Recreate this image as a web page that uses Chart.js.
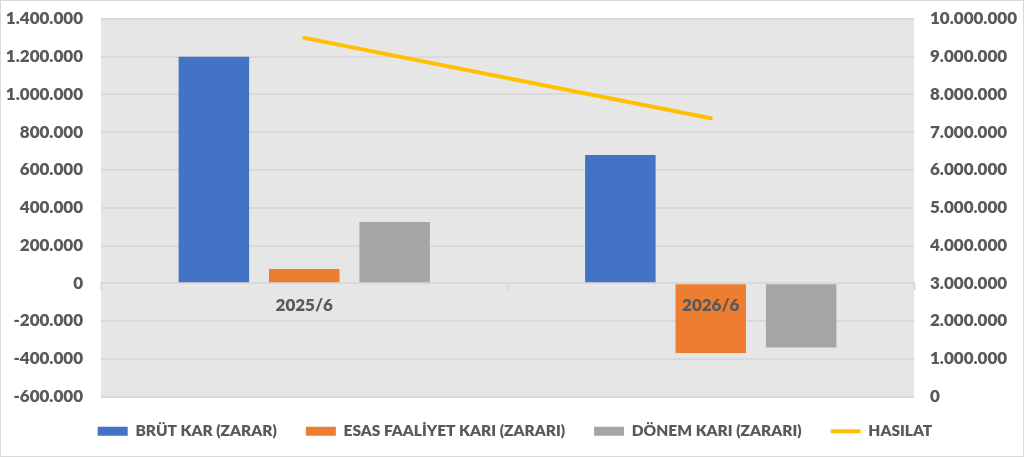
<!DOCTYPE html>
<html>
<head>
<meta charset="utf-8">
<script src="https://cdn.jsdelivr.net/npm/chart.js@4.4.0/dist/chart.umd.min.js"></script>
<style>
  body { margin: 0; background: #fff; }
  #wrap { width: 1024px; height: 457px; position: relative; }
</style>
</head>
<body>
<div id="wrap"><canvas id="karChart"></canvas></div>
<script>
// chart values
const categories = ['2025/6', '2026/6'];
const brutKar = [1200000, 680000];
const esasFaaliyetKari = [75000, -370000];
const donemKari = [325000, -340000];
const hasilat = [9500000, 7370000];

// axis ranges: min, max, step
const leftAxis = [-600000, 1400000, 200000];
const rightAxis = [0, 10000000, 1000000];

const textColor = '#595959';
const gridColor = '#D9D9D9';
const axisFont = { family: 'Lato', size: 17, weight: '800' };
const legendFont = { family: 'Lato', size: 15.5, weight: '800' };

// 1.400.000 style numbers
function fmt(v) {
    return String(v).replace(/\B(?=(\d{3})+(?!\d))/g, '.');
}

// fixed axis widths, no extra label padding above/below the plot
function fixWidth(w) {
    return scale => {
        scale.width = w;
        scale.paddingTop = 0;
        scale.paddingBottom = 0;
    };
}

// gray plot area, thin frame, legend nudged into place
const plotBackground = {
    id: 'plotBackground',
    afterLayout(chart) {
        const lg = chart.legend;
        if (lg) {
            lg.top -= 2;
            lg.bottom -= 2;
            lg.left += 3;
            lg.right += 3;
        }
    },
    beforeDraw(chart) {
        const { ctx, chartArea } = chart;
        ctx.save();
        ctx.fillStyle = '#fff';
        ctx.fillRect(0, 0, chart.width, chart.height);
        ctx.fillStyle = '#E7E6E6';
        ctx.fillRect(chartArea.left, chartArea.top, chartArea.right - chartArea.left, chartArea.bottom - chartArea.top);
        ctx.restore();
    },
    afterDraw(chart) {
        const ctx = chart.ctx;
        ctx.save();
        ctx.strokeStyle = gridColor;
        ctx.lineWidth = 1;
        ctx.strokeRect(0.5, 0.5, chart.width - 1, chart.height - 1);
        ctx.restore();
    }
};

const ctx = document.getElementById('karChart').getContext('2d');
const karChart = new Chart(ctx, {
    data: {
        labels: categories,
        datasets: [
            {
                type: 'bar',
                label: 'BRÜT KAR (ZARAR)',
                data: brutKar,
                backgroundColor: '#4472C4',
                borderWidth: 0,
                pointStyle: 'rect',
                yAxisID: 'y'
            },
            {
                type: 'bar',
                label: 'ESAS FAALİYET KARI (ZARARI)',
                data: esasFaaliyetKari,
                backgroundColor: '#ED7D31',
                borderWidth: 0,
                pointStyle: 'rect',
                yAxisID: 'y'
            },
            {
                type: 'bar',
                label: 'DÖNEM KARI (ZARARI)',
                data: donemKari,
                backgroundColor: '#A5A5A5',
                borderWidth: 0,
                pointStyle: 'rect',
                yAxisID: 'y'
            },
            {
                type: 'line',
                label: 'HASILAT',
                data: hasilat,
                borderColor: '#FFC000',
                backgroundColor: '#FFC000',
                borderWidth: 4,
                borderCapStyle: 'round',
                pointRadius: 0,
                pointStyle: 'line',
                tension: 0,
                yAxisID: 'y1'
            }
        ]
    },
    options: {
        responsive: true,
        maintainAspectRatio: false,
        animation: false,
        categoryPercentage: 0.667,
        barPercentage: 0.78,
        layout: {
            padding: { top: 19, left: 0, right: 0, bottom: 6 }
        },
        plugins: {
            legend: {
                position: 'bottom',
                labels: {
                    usePointStyle: true,
                    pointStyleWidth: 30,
                    boxHeight: 9,
                    padding: 29,
                    color: textColor,
                    font: legendFont
                }
            },
            tooltip: { enabled: false }
        },
        scales: {
            x: {
                type: 'category',
                axis: 'x',
                position: { y: 0 },
                grid: {
                    offset: true,
                    drawOnChartArea: false,
                    tickLength: 6,
                    tickWidth: 2,
                    color: gridColor
                },
                border: { color: gridColor, width: 2 },
                ticks: { color: textColor, font: axisFont, padding: 6, z: 1 }
            },
            y: {
                position: 'left',
                min: leftAxis[0],
                max: leftAxis[1],
                afterFit: fixWidth(101),
                ticks: {
                    stepSize: leftAxis[2],
                    color: textColor,
                    font: axisFont,
                    padding: 18,
                    callback: v => fmt(v)
                },
                grid: { color: gridColor, lineWidth: 2, drawTicks: false },
                border: { display: false }
            },
            y1: {
                position: 'right',
                min: rightAxis[0],
                max: rightAxis[1],
                afterFit: fixWidth(110),
                ticks: {
                    stepSize: rightAxis[2],
                    color: textColor,
                    font: axisFont,
                    padding: 16,
                    callback: v => fmt(v)
                },
                grid: { drawOnChartArea: false, drawTicks: false },
                border: { display: false }
            }
        }
    },
    plugins: [plotBackground]
});
</script>
</body>
</html>
